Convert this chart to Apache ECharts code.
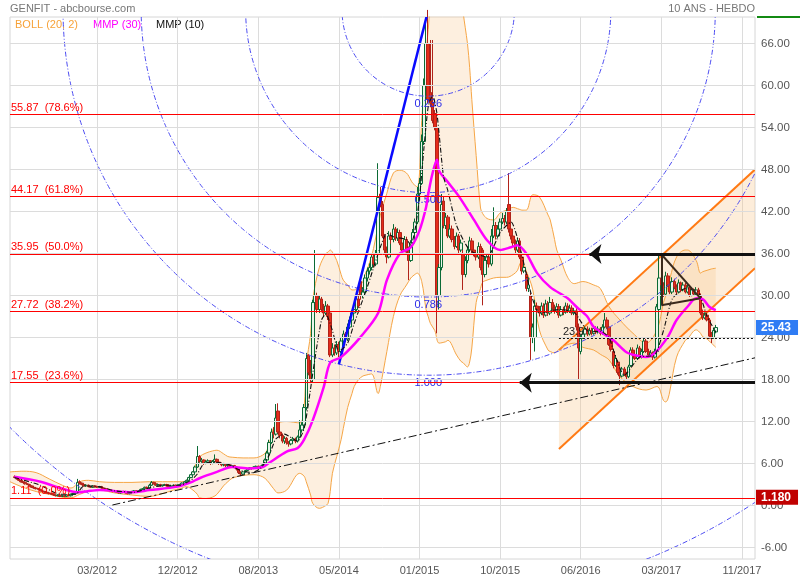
<!DOCTYPE html>
<html><head><meta charset="utf-8"><title>GENFIT</title>
<script src="https://cdn.jsdelivr.net/npm/echarts@6/dist/echarts.min.js"></script>
<style>html,body{margin:0;padding:0;background:#fff}#main{width:800px;height:580px}</style>
</head><body><div id="main"></div>
<script>
const FONT = '"Liberation Sans", Arial, Helvetica, sans-serif';

// ---- axis ----
const startWeek = Date.UTC(2011, 5, 13);
const weekCount = 343;
const tickWeeks = [40, 77, 114, 151, 188, 225, 262, 299, 336];
const tickLabels = ['03/2012', '12/2012', '08/2013', '05/2014', '01/2015', '10/2015', '06/2016', '03/2017', '11/2017'];
const yTicks = [-6, 0, 6, 12, 18, 24, 30, 36, 42, 48, 54, 60, 66];
const yMin = -7.64, yMax = 69.79;

// ---- weekly candles (first candle at week index 2) ----
const firstCandle = 2;
const opens = [
4.1,4.0,3.8,3.6,3.4,3.3,3.1,3.0,2.8,2.6,
2.5,2.4,2.3,2.1,2.0,1.9,1.8,1.7,1.6,1.5,
1.4,1.5,1.3,1.4,1.3,1.5,1.4,1.6,1.7,1.8,
3.4,3.2,3.0,2.8,2.9,2.7,2.6,2.8,2.7,2.6,
2.7,2.5,2.4,2.3,2.2,2.1,2.0,2.1,1.9,1.8,
1.9,2.0,1.8,1.7,1.9,2.0,2.1,2.0,2.1,2.3,
2.4,2.6,2.5,2.9,3.3,3.1,2.9,3.0,2.8,2.9,
3.0,2.8,2.7,2.8,2.9,2.8,2.9,3.0,3.2,3.4,
3.6,4.0,4.4,4.8,5.5,7.0,6.3,6.5,6.0,6.2,
6.4,6.0,6.3,6.6,6.2,6.0,5.8,5.9,5.7,5.8,
5.6,5.7,5.5,5.2,4.7,4.5,4.8,5.0,5.2,5.4,
5.3,5.5,5.6,5.4,5.6,5.8,6.5,7.5,9.0,10.5,
10.2,13.5,10.5,10.0,9.2,9.6,9.0,8.8,9.3,9.5,
9.2,9.8,10.8,11.5,14.0,21.5,19.0,18.0,29.0,30.0,
28.0,29.5,28.0,27.5,28.5,27.5,21.5,22.5,21.8,23.0,
22.0,23.5,24.5,23.8,25.5,26.5,27.5,28.0,29.5,32.0,
30.0,30.5,32.5,33.5,34.0,35.5,34.5,36.0,44.5,43.0,
38.5,36.5,35.5,38.5,38.0,39.5,38.2,39.0,37.5,36.5,
38.0,36.5,35.0,37.5,39.0,40.5,44.5,46.0,52.0,60.0,
66.0,59.0,57.5,56.0,54.0,30.0,34.0,43.5,40.0,41.2,
38.5,39.5,38.0,37.0,38.5,36.5,36.0,33.0,35.0,36.5,
37.8,36.5,36.0,35.5,37.0,36.5,33.0,35.0,35.5,34.5,
38.5,40.0,38.5,39.5,40.5,41.0,40.5,43.0,39.5,38.5,
37.5,36.5,37.8,35.5,33.5,33.0,31.0,30.0,24.0,24.0,
28.5,28.0,27.5,28.5,27.2,28.8,27.5,29.0,28.2,27.8,
28.4,27.2,28.0,27.6,28.5,27.8,28.2,27.5,27.8,25.5,
22.0,24.0,24.5,25.2,24.5,25.0,24.6,25.3,24.8,25.2,
24.6,25.5,26.5,25.5,23.5,22.0,20.0,20.5,19.0,18.5,
19.5,18.8,18.4,20.0,22.2,21.5,21.0,22.5,21.3,22.0,
23.5,22.0,21.5,21.8,21.2,22.0,28.0,32.5,31.5,30.2,
32.8,31.5,30.5,32.0,31.2,30.5,31.8,30.8,31.5,30.5,
31.2,30.0,30.8,30.2,30.8,30.0,27.5,26.8,27.2,26.5,
24.5,24.0,24.8];
const closes = [
4.0,3.8,3.6,3.4,3.3,3.1,3.0,2.8,2.6,2.5,
2.4,2.3,2.1,2.0,1.9,1.8,1.7,1.6,1.5,1.4,
1.5,1.3,1.4,1.3,1.5,1.4,1.6,1.7,1.8,3.3,
3.2,3.0,2.8,2.9,2.7,2.6,2.8,2.7,2.6,2.7,
2.5,2.4,2.3,2.2,2.1,2.0,2.1,1.9,1.8,1.9,
2.0,1.8,1.7,1.9,2.0,2.1,2.0,2.1,2.3,2.4,
2.6,2.5,2.9,3.3,3.1,2.9,3.0,2.8,2.9,3.0,
2.8,2.7,2.8,2.9,2.8,2.9,3.0,3.2,3.4,3.6,
4.0,4.4,4.8,5.5,7.0,6.3,6.5,6.0,6.2,6.4,
6.0,6.3,6.6,6.2,6.0,5.8,5.9,5.7,5.8,5.6,
5.7,5.5,5.2,4.7,4.5,4.8,5.0,5.2,5.4,5.3,
5.5,5.6,5.4,5.6,5.8,6.5,7.5,9.0,10.5,10.2,
12.5,10.5,10.0,9.2,9.6,9.0,8.8,9.3,9.5,9.2,
9.8,10.8,11.5,14.0,21.0,19.0,18.0,29.0,30.0,28.0,
29.5,28.0,27.5,28.5,27.0,21.5,22.5,21.8,23.0,22.0,
23.5,24.5,23.8,25.5,26.5,27.5,28.0,29.5,28.5,30.0,
30.5,32.5,33.5,34.0,35.5,34.5,36.0,44.0,43.0,38.5,
36.5,35.5,38.5,38.0,39.5,38.2,39.0,37.5,36.5,38.0,
36.2,35.0,37.5,39.0,40.5,44.5,46.0,52.0,60.0,66.0,
58.0,57.5,55.0,54.0,30.0,34.0,43.0,40.0,41.2,38.5,
39.5,38.0,37.0,38.5,36.5,37.5,33.0,35.0,36.5,37.8,
36.5,36.0,35.5,37.0,34.0,33.0,35.0,35.5,34.5,38.5,
40.0,38.5,39.5,40.5,41.0,40.5,42.0,39.5,38.5,37.5,
36.5,37.8,35.5,33.5,34.0,31.0,31.5,24.0,25.5,28.5,
28.0,27.5,28.5,27.2,28.8,27.5,29.0,28.2,27.8,28.4,
27.2,28.0,27.6,28.5,27.8,28.2,27.5,27.8,25.5,22.5,
24.0,24.5,25.2,24.5,25.0,24.6,25.3,24.8,25.2,24.6,
25.5,26.5,25.5,23.0,22.3,20.0,21.0,19.0,18.5,19.5,
18.8,18.4,19.8,22.2,21.5,21.0,22.5,21.3,22.0,23.5,
22.0,21.5,21.8,21.2,22.0,28.4,32.5,31.5,30.2,32.8,
31.5,30.5,32.0,31.2,30.5,31.8,30.8,31.5,30.5,31.2,
30.0,30.8,30.2,30.8,30.0,27.5,26.8,27.2,26.5,24.2,
23.9,25.0,25.43];
const lows = [
3.9,3.7,3.5,3.3,3.2,3.0,2.9,2.7,2.5,2.4,
2.3,2.2,2.0,1.9,1.8,1.7,1.6,1.5,1.4,1.3,
1.3,1.2,1.2,1.2,1.2,1.3,1.3,1.5,1.6,1.7,
3.0,2.9,2.7,2.7,2.6,2.5,2.5,2.6,2.5,2.5,
2.4,2.3,2.2,2.1,2.0,1.9,1.9,1.8,1.7,1.7,
1.8,1.7,1.6,1.6,1.8,1.9,1.9,1.9,2.0,2.2,
2.3,2.4,2.4,2.8,3.0,2.8,2.8,2.7,2.7,2.8,
2.7,2.6,2.6,2.7,2.7,2.7,2.8,2.9,3.1,3.3,
3.5,3.9,4.3,4.7,5.4,6.1,6.1,5.8,5.9,6.0,
5.8,5.9,6.1,6.0,5.8,5.6,5.6,5.5,5.5,5.4,
5.5,5.3,5.0,4.5,4.2,4.4,4.7,4.9,5.1,5.1,
5.2,5.4,5.2,5.3,5.5,5.7,6.3,7.3,8.8,9.6,
10.0,10.3,9.6,8.9,8.8,8.7,8.4,8.6,9.0,8.9,
9.0,9.6,10.4,11.2,13.6,18.6,17.5,17.6,28.2,27.5,
27.5,27.6,27.0,27.2,26.5,21.2,21.2,21.4,21.5,21.2,
21.8,23.2,23.4,23.5,25.2,26.2,27.0,27.6,28.2,29.4,
29.6,30.2,32.0,33.0,33.6,34.0,34.2,35.8,42.6,38.2,
36.0,34.6,35.3,37.4,37.6,37.8,37.8,37.2,36.0,36.2,
35.8,32.2,34.8,37.2,38.8,40.2,44.0,45.8,51.5,59.8,
57.5,56.9,54.6,53.6,24.6,28.0,33.6,39.6,39.5,38.2,
38.2,37.6,36.6,36.8,36.0,36.2,30.8,32.6,34.6,36.2,
36.0,35.6,35.0,35.2,33.6,28.6,32.6,34.6,34.0,34.2,
38.2,38.0,38.2,39.2,40.2,40.0,40.2,39.0,38.0,37.0,
36.0,36.2,35.2,33.0,33.2,30.6,30.5,20.8,23.2,22.0,
27.4,27.0,27.2,26.8,27.0,27.1,27.2,27.8,27.4,27.5,
26.8,27.0,27.2,27.4,27.5,27.5,27.2,27.2,25.0,18.0,
21.6,23.8,24.2,24.2,24.3,24.3,24.4,24.5,24.6,24.3,
24.4,25.3,25.2,22.8,22.0,19.6,19.8,18.7,17.2,18.3,
18.5,18.0,18.2,19.8,21.2,20.8,20.8,21.0,21.0,21.8,
21.8,21.2,21.2,20.8,21.0,21.8,27.8,31.0,29.8,30.0,
31.2,30.2,30.2,30.9,30.2,30.3,30.5,30.6,30.3,30.3,
29.8,29.9,30.0,30.0,29.8,27.2,26.5,26.6,26.3,23.8,
23.2,23.8,24.6];
const highs = [
4.3,4.1,3.9,3.7,3.5,3.4,3.2,3.1,2.9,2.7,
2.6,2.5,2.4,2.2,2.1,2.0,1.9,1.8,1.7,1.6,
1.6,1.6,1.5,1.5,1.6,1.6,1.7,1.8,1.9,3.8,
3.6,3.3,3.1,3.0,3.0,2.8,2.9,2.9,2.8,2.8,
2.8,2.6,2.5,2.4,2.3,2.2,2.2,2.2,2.0,2.0,
2.1,2.1,1.9,2.0,2.1,2.2,2.2,2.2,2.4,2.5,
2.7,2.7,3.1,3.5,3.4,3.2,3.1,3.1,3.0,3.1,
3.1,2.9,2.9,3.0,3.0,3.0,3.1,3.3,3.5,3.7,
4.1,4.5,4.9,5.7,8.5,7.2,6.8,6.6,6.4,6.6,
6.5,6.5,7.3,6.7,6.3,6.1,6.0,6.0,5.9,5.9,
5.8,5.8,5.6,5.3,4.9,4.9,5.1,5.3,5.5,5.5,
5.6,5.7,5.7,5.7,5.9,6.7,7.8,9.4,11.0,11.2,
14.5,14.6,10.8,10.3,9.9,9.8,9.2,9.5,9.8,9.7,
10.0,12.2,11.9,14.5,21.8,21.6,20.8,29.4,36.5,30.4,
30.0,29.8,28.8,29.2,28.8,27.8,23.2,23.0,23.5,23.4,
24.0,25.0,24.8,26.0,27.0,27.9,28.5,30.0,30.2,32.2,
31.2,33.0,34.0,34.6,36.0,36.0,36.5,48.9,45.5,43.5,
38.8,37.0,39.2,39.0,40.2,39.8,39.6,39.4,38.0,38.5,
38.4,37.0,37.9,39.5,41.0,45.5,46.8,53.0,61.0,69.5,
70.8,66.5,66.5,56.5,54.5,34.5,44.5,44.2,41.8,41.5,
40.2,40.0,38.5,39.0,38.8,38.0,36.5,35.6,37.0,38.4,
38.2,37.0,36.5,37.6,37.4,36.8,35.5,36.0,36.0,39.5,
42.6,40.5,40.0,41.0,41.8,41.5,42.5,47.5,40.0,39.0,
38.0,38.3,38.2,35.8,34.6,33.4,32.6,30.4,26.0,29.4,
29.0,28.5,29.0,28.9,29.4,29.2,29.8,29.5,28.7,28.9,
28.8,28.5,28.4,29.0,28.9,28.7,28.6,28.2,28.2,26.0,
24.4,25.0,25.6,25.6,25.4,25.4,25.7,25.6,25.6,25.5,
25.9,27.5,26.9,25.9,23.8,22.4,21.5,20.8,19.4,19.8,
19.8,19.1,20.1,22.6,22.6,21.8,23.0,22.8,22.4,23.8,
23.8,22.4,22.2,22.0,22.4,28.8,36.0,33.8,31.9,33.4,
33.2,31.9,32.6,32.4,31.6,32.3,32.0,31.9,31.8,31.6,
31.5,31.2,31.0,31.2,31.1,30.3,28.0,27.6,27.5,26.8,
24.8,25.4,25.8];

// ---- indicators [week index, value] ----
const mmp30 = [[2,4.1],[14,3.4],[23,2.5],[31,1.9],[37,2.1],[41,2.2],[56,1.9],[64,2.2],[77,2.7],[83,3.3],[87,3.9],[95,4.8],[102,5.5],[110,5.3],[116,5.5],[119,6.1],[127,7.7],[132,8.2],[135,9.4],[139,12.2],[144,16.9],[147,20.4],[152,21.2],[161,24.1],[169,27.5],[173,32.2],[179,36.0],[184,36.9],[188,39.3],[191,42.6],[192,44.5],[194,47.5],[196,49.4],[197,47.8],[201,46.2],[206,44.2],[213,40.8],[219,37.9],[225,36.5],[230,36.9],[233,37.2],[237,36.0],[242,33.2],[248,31.2],[256,29.6],[260,28.4],[265,27.0],[268,25.5],[277,23.6],[283,21.9],[288,21.4],[292,21.2],[296,21.8],[302,24.1],[306,26.5],[311,28.4],[315,29.6],[318,29.5],[321,28.4],[324,27.9]];
const mmp10 = [[2,4.0],[14,2.9],[23,1.6],[30,1.6],[34,2.8],[41,2.7],[48,2.1],[57,1.9],[64,2.5],[71,2.9],[78,2.9],[83,3.6],[86,4.5],[89,6.0],[94,6.2],[100,5.9],[106,5.0],[111,4.7],[115,5.3],[119,7.2],[122,9.5],[126,10.2],[132,9.2],[135,11.0],[137,14.6],[140,21.0],[143,26.5],[145,27.4],[148,25.0],[151,22.0],[155,23.2],[158,26.0],[164,31.2],[170,36.9],[173,38.9],[176,38.4],[182,38.0],[184,37.2],[186,39.5],[188,44.0],[190,51.0],[192,57.0],[194,58.6],[196,56.0],[199,47.0],[201,45.0],[205,40.0],[211,36.5],[219,35.5],[225,39.0],[230,40.5],[234,37.0],[239,30.5],[243,27.5],[252,28.0],[259,27.6],[266,24.8],[271,24.9],[275,24.0],[277,22.2],[282,18.6],[289,21.2],[296,21.5],[300,25.0],[304,29.5],[310,31.0],[316,30.5],[320,27.0],[324,24.8]];
const bollUpper = [[0,4.8],[6,4.9],[12,4.7],[18,3.8],[24,2.9],[28,2.5],[32,3.4],[36,3.6],[41,3.4],[48,3.3],[56,3.3],[64,3.4],[70,3.4],[75,3.4],[78,3.4],[81,3.6],[84,4.8],[86,6.5],[87,7.0],[90,7.5],[93,7.8],[95,7.9],[98,7.4],[100,7.0],[102,6.9],[107,6.8],[112,6.8],[116,7.2],[118,7.9],[120,10.0],[121,11.1],[123,11.8],[127,12.0],[133,11.8],[135,14.1],[136,20.0],[138,24.6],[139,29.4],[142,34.0],[145,36.0],[146,36.2],[147,36.5],[148,36.2],[150,35.0],[152,33.0],[153,32.2],[155,31.5],[157,30.8],[158,30.8],[160,31.2],[162,32.0],[163,33.0],[166,35.6],[169,40.0],[170,41.5],[173,44.6],[176,47.5],[179,47.9],[182,47.5],[184,46.5],[185,46.0],[187,45.5],[189,55.0],[191,64.6],[192,68.0],[193,72.0],[195,78.0],[197,82.0],[200,83.0],[201,83.0],[205,78.0],[207,74.0],[208,70.5],[210,66.0],[211,62.6],[212,58.0],[214,50.0],[216,42.5],[217,41.7],[219,41.0],[222,40.8],[225,41.8],[228,42.2],[231,42.6],[233,42.4],[234,42.3],[235,42.2],[237,42.2],[240,44.4],[243,44.1],[247,41.5],[248,40.8],[250,38.0],[251,36.5],[253,35.0],[256,32.6],[259,31.7],[263,32.0],[268,31.5],[271,31.0],[275,28.4],[280,26.5],[286,24.6],[292,23.2],[297,25.1],[300,29.0],[301,30.0],[302,31.2],[303,32.5],[306,35.5],[310,36.5],[311,36.5],[315,35.0],[317,33.2],[318,33.4],[320,33.6],[322,33.8],[324,33.9]];
const bollLower = [[0,3.4],[6,2.6],[12,2.0],[18,1.6],[24,1.2],[28,1.1],[32,1.6],[36,2.0],[41,2.2],[48,1.8],[56,1.5],[64,1.3],[70,1.7],[75,2.2],[78,2.4],[81,2.7],[84,2.2],[86,1.6],[87,1.1],[90,1.0],[93,1.2],[95,1.6],[98,2.8],[100,3.4],[102,3.9],[107,4.3],[112,4.4],[116,4.1],[118,3.6],[120,2.8],[121,2.4],[123,1.8],[127,2.2],[133,4.6],[135,4.2],[136,3.4],[138,1.5],[139,0.3],[142,-0.4],[145,0.0],[146,0.3],[147,2.0],[148,4.6],[150,7.0],[152,9.4],[153,11.0],[155,14.0],[157,16.0],[158,17.0],[160,18.0],[162,18.5],[163,18.6],[166,18.8],[169,16.0],[170,17.0],[173,22.0],[176,27.0],[179,30.0],[182,31.5],[184,32.5],[185,32.8],[187,33.2],[189,32.0],[191,28.0],[192,27.0],[193,26.0],[195,25.0],[197,23.2],[200,23.4],[201,23.6],[205,21.5],[207,20.6],[208,20.4],[210,19.8],[211,20.5],[212,22.5],[214,29.0],[216,31.0],[217,31.9],[219,32.2],[222,32.5],[225,32.6],[228,32.6],[231,33.0],[233,33.6],[234,34.5],[235,34.8],[237,33.5],[240,30.8],[243,25.1],[247,22.2],[248,22.0],[250,21.8],[251,22.0],[253,22.6],[256,23.0],[259,23.2],[263,22.6],[268,22.2],[271,21.6],[275,20.8],[280,18.4],[286,17.0],[292,16.5],[297,17.0],[300,15.0],[301,14.8],[302,15.2],[303,16.5],[306,21.2],[310,23.6],[311,23.8],[315,25.1],[317,24.6],[318,24.1],[320,23.8],[322,23.2],[324,22.6]];

// ---- drawing tools ----
const fibLevels = [55.87, 44.17, 35.95, 27.72, 17.55, 1.11];
const fibPct = ['78.6%', '61.8%', '50.0%', '38.2%', '23.6%', '0.0%'];
const fanHigh = [192, 70.79];
const fanLow = [151, 20.2];
const fanRatios = [0.236, 0.5, 0.786, 1.0, 1.618];
const fanLabels = ['0.236', '0.500', '0.786', '1.000', ''];
const channelUpper = [[252, 22.2], [342, 48.0]];
const channelLower = [[252, 8.07], [342, 33.9]];
const triangle = [[299, 35.9], [299, 28.6], [317, 29.6]];
const trendLine = [[47, 0.07], [342, 21.1]];
const arrowLines = [[266, 342, 35.95], [234, 342, 17.55]];
const dottedLevel = [252, 342, 23.9];
const lastPrice = 25.43;
const refPrice = 1.18;

// ---- build library tables ----
const weeks = [];
for (let k = 0; k < weekCount; k++) weeks.push(new Date(startWeek + k * 7 * 86400000).toISOString().slice(0, 10));
const candleData = weeks.map((w, i) => {
  const k = i - firstCandle;
  return (k >= 0 && k < closes.length) ? [opens[k], closes[k], lows[k], highs[k]] : '-';
});
const bollWidth = bollUpper.map((p, k) => [p[0], +(p[1] - bollLower[k][1]).toFixed(2)]);
const isTick = (i) => tickWeeks.indexOf(i) >= 0;
const blank = () => ({type: 'line', data: [], silent: true, symbol: 'none'});
const priceBox = (v, txt, bg) => ({yAxis: v, label: {show: true, position: 'end', distance: 1, formatter: txt,
  color: '#fff', fontWeight: 'bold', fontSize: 12, backgroundColor: bg, padding: [2, 7, 1, 5], fontFamily: FONT, opacity: 1}});

const option = {
  animation: false,
  backgroundColor: '#ffffff',
  textStyle: {fontFamily: FONT},
  grid: {left: 10, right: 45, top: 17, bottom: 21, show: true, borderColor: '#d6d6d6', borderWidth: 1, outerBoundsMode: 'none'},
  xAxis: {
    type: 'category', data: weeks, boundaryGap: false,
    axisLine: {show: false}, axisTick: {show: false},
    axisLabel: {interval: (i) => isTick(i), formatter: (v, i) => { const k = tickWeeks.indexOf(i); return k >= 0 ? tickLabels[k] : ''; },
      color: '#555', fontSize: 11, margin: 6, fontFamily: FONT},
    splitLine: {show: true, interval: (i) => isTick(i), lineStyle: {color: '#dcdcdc', width: 1}}
  },
  yAxis: {
    type: 'value', position: 'right', min: yMin, max: yMax,
    axisLine: {show: false}, axisTick: {show: false}, splitLine: {show: false},
    axisLabel: {customValues: yTicks, formatter: (v) => v.toFixed(2), color: '#555', fontSize: 11.5, margin: 6, fontFamily: FONT}
  },
  graphic: [
    {type: 'text', left: 10, top: 3, style: {text: 'GENFIT - abcbourse.com', fill: '#777', font: '11px ' + FONT}},
    {type: 'text', right: 45, top: 3, style: {text: '10 ANS - HEBDO', fill: '#777', font: '11px ' + FONT}},
    {type: 'text', left: 15, top: 19, style: {text: 'BOLL (20, 2)', fill: '#f7a238', font: '11px ' + FONT}},
    {type: 'text', left: 93, top: 19, style: {text: 'MMP (30)', fill: '#ff00ff', font: '11px ' + FONT}},
    {type: 'text', left: 156, top: 19, style: {text: 'MMP (10)', fill: '#111', font: '11px ' + FONT}},
    {type: 'line', shape: {x1: 757, y1: 17, x2: 800, y2: 17}, style: {stroke: '#138a13', lineWidth: 2}}
  ],
  series: [
    Object.assign(blank(), {name: 'grid', z: 0, markLine: {silent: true, symbol: 'none', label: {show: false},
      lineStyle: {color: '#dcdcdc', type: 'solid', width: 1}, data: yTicks.map(v => ({yAxis: v}))}}),
    {name: 'bollLower', type: 'line', data: bollLower, stack: 'boll', stackStrategy: 'all', smooth: 0.35, symbol: 'none', z: 1, silent: true,
      lineStyle: {color: '#f6a646', width: 1}},
    {name: 'bollUpper', type: 'line', data: bollWidth, stack: 'boll', stackStrategy: 'all', smooth: 0.35, symbol: 'none', z: 1, silent: true,
      lineStyle: {color: '#f6a646', width: 1}, areaStyle: {color: 'rgba(250,205,155,0.45)', origin: 'auto'}},
    {name: 'channel', type: 'custom', z: 1, clip: true, silent: true, data: [channelUpper[0]], encode: {x: 0, y: 1},
      renderItem: (params, api) => {
        const a = api.coord(channelUpper[0]), b = api.coord(channelUpper[1]);
        const c = api.coord(channelLower[1]), d = api.coord(channelLower[0]);
        return {type: 'group', children: [
          {type: 'polygon', shape: {points: [a, b, c, d]}, style: {fill: 'rgba(250,200,140,0.32)'}},
          {type: 'line', shape: {x1: a[0], y1: a[1], x2: b[0], y2: b[1]}, style: {stroke: '#ff7a14', lineWidth: 2}},
          {type: 'line', shape: {x1: d[0], y1: d[1], x2: c[0], y2: c[1]}, style: {stroke: '#ff7a14', lineWidth: 2}}
        ]};
      }},
    {name: 'GENFIT', type: 'candlestick', data: candleData, barWidth: 3, z: 3, silent: true,
      itemStyle: {color: '#eaf6ea', color0: '#e52c1a', borderColor: '#0b6a35', borderColor0: '#b0231a', borderWidth: 1}},
    Object.assign(blank(), {name: 'fib', z: 3, markLine: {silent: true, symbol: 'none',
      lineStyle: {color: '#ff0000', type: 'solid', width: 1},
      label: {show: true, position: 'insideStartTop', distance: [1, 1], color: '#ff0000', fontSize: 11, fontFamily: FONT},
      data: fibLevels.map((v, k) => ({yAxis: v, label: {formatter: v.toFixed(2) + '  (' + fibPct[k] + ')'}}))}}),
    {name: 'MMP (30)', type: 'line', data: mmp30, smooth: 0.3, symbol: 'none', z: 4, silent: true, lineStyle: {color: '#ff00ff', width: 2.5}},
    {name: 'MMP (10)', type: 'line', data: mmp10, smooth: 0.2, symbol: 'none', z: 4, silent: true, lineStyle: {color: '#111', width: 1.1, type: [5, 2, 1, 2]}},
    {name: 'fan', type: 'custom', z: 4, clip: true, silent: true, data: [fanHigh], encode: {x: 0, y: 1},
      renderItem: (params, api) => {
        const c = api.coord(fanHigh), p = api.coord(fanLow);
        const R = Math.hypot(c[0] - p[0], c[1] - p[1]);
        const children = [];
        fanRatios.forEach((r, k) => {
          children.push({type: 'circle', shape: {cx: c[0], cy: c[1], r: R * r},
            style: {fill: 'none', stroke: '#4d4df2', lineWidth: 1, lineDash: [5, 2, 1, 2]}});
          if (fanLabels[k]) children.push({type: 'text', x: c[0], y: c[1] + R * r + 2,
            style: {text: fanLabels[k], fill: '#2a2ae8', font: '11px ' + FONT, align: 'center', verticalAlign: 'top', textAlign: 'center', textVerticalAlign: 'top'}});
        });
        children.push({type: 'line', shape: {x1: p[0], y1: p[1], x2: c[0], y2: c[1]}, style: {stroke: '#0a0aff', lineWidth: 2.5}});
        return {type: 'group', children};
      }},
    Object.assign(blank(), {name: 'trend', z: 5, markLine: {silent: true, symbol: 'none', label: {show: false},
      lineStyle: {color: '#111', width: 1, type: [8, 3, 2, 3]},
      data: [[{coord: trendLine[0]}, {coord: trendLine[1]}]]}}),
    Object.assign(blank(), {name: 'triangle', z: 5, markLine: {silent: true, symbol: 'none', label: {show: false},
      lineStyle: {color: '#3b2a1c', width: 2, type: 'solid'},
      data: [[{coord: triangle[0]}, {coord: triangle[1]}], [{coord: triangle[0]}, {coord: triangle[2]}], [{coord: triangle[1]}, {coord: triangle[2]}]]}}),
    Object.assign(blank(), {name: 'arrows', z: 5, markLine: {silent: true, symbol: ['arrow', 'none'], symbolSize: [15, 12], label: {show: false},
      lineStyle: {color: '#111', width: 3, type: 'solid'}, itemStyle: {color: '#111'},
      data: arrowLines.map(a => [{coord: [a[0], a[2]]}, {coord: [a[1], a[2]]}])}}),
    Object.assign(blank(), {name: 'dotted', z: 5, markLine: {silent: true, symbol: 'none',
      lineStyle: {color: '#111', width: 1, type: [2, 2]},
      label: {show: true, position: 'insideStartTop', distance: [4, 1], color: '#222', fontSize: 11, fontFamily: FONT, formatter: '23.9'},
      data: [[{coord: [dottedLevel[0], dottedLevel[2]]}, {coord: [dottedLevel[1], dottedLevel[2]]}]]}}),
    Object.assign(blank(), {name: 'prices', z: 6, clip: false, markLine: {silent: true, symbol: 'none',
      lineStyle: {color: 'rgba(0,0,0,0)', width: 0},
      data: [priceBox(lastPrice, lastPrice.toFixed(2), '#2f7cf4'), priceBox(refPrice, refPrice.toFixed(3), '#c00000')]}})
  ]
};
const chart = echarts.init(document.getElementById('main'), null, {renderer: 'canvas', width: 800, height: 580});
chart.setOption(option);
</script></body></html>
